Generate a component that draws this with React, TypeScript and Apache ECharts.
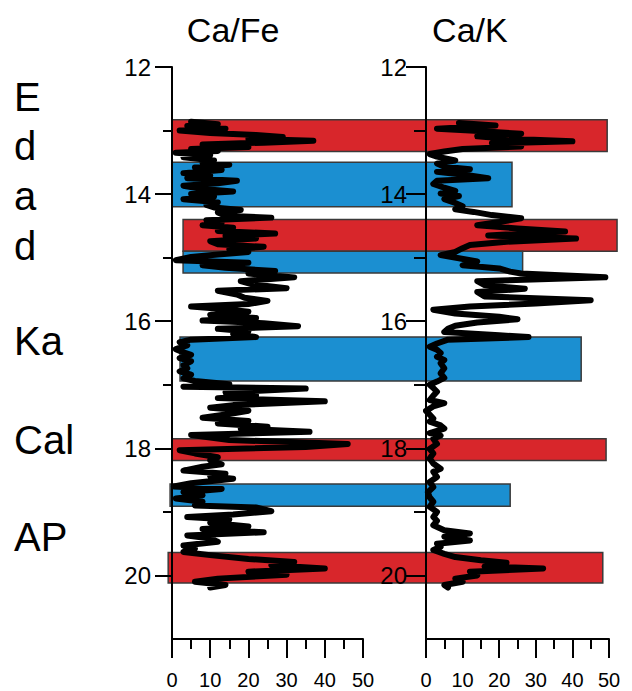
import React, { useEffect, useRef } from "react";
import * as echarts from "echarts";

// Ca/Fe profile (depth, value)
const depthFe = [12.86,12.90,12.93,12.97,13.00,13.04,13.07,13.10,13.13,13.16,13.19,13.22,13.26,13.29,13.32,13.35,13.39,13.42,13.47,13.51,13.54,13.58,13.62,13.67,13.71,13.75,13.79,13.83,13.87,13.92,13.96,14.00,14.04,14.08,14.13,14.17,14.21,14.25,14.29,14.34,14.37,14.41,14.45,14.49,14.53,14.58,14.62,14.66,14.70,14.74,14.79,14.83,14.87,14.91,14.95,14.99,15.04,15.08,15.12,15.16,15.21,15.25,15.31,15.37,15.42,15.48,15.52,15.58,15.63,15.68,15.73,15.77,15.81,15.85,15.90,15.95,15.99,16.03,16.08,16.12,16.16,16.20,16.25,16.29,16.33,16.38,16.44,16.49,16.53,16.58,16.63,16.69,16.74,16.79,16.84,16.90,16.94,16.99,17.03,17.06,17.12,17.17,17.21,17.26,17.32,17.36,17.41,17.46,17.52,17.57,17.61,17.66,17.69,17.74,17.79,17.87,17.93,17.98,18.03,18.08,18.14,18.19,18.25,18.29,18.35,18.40,18.44,18.48,18.55,18.60,18.64,18.69,18.74,18.79,18.84,18.90,18.93,18.99,19.04,19.08,19.12,19.17,19.23,19.27,19.32,19.37,19.42,19.47,19.53,19.58,19.63,19.68,19.74,19.79,19.84,19.89,19.94,19.99,20.05,20.10,20.15,20.19];
const caFe = [5,12,4,14,2,10,22,29,20,37,24,8,20,5,12,1,10,3,11,8,15,6,13,3,10,4,17,12,3,8,16,5,11,3,12,9,11,18,12,14,26,9,13,8,16,12,27,14,22,10,12,24,15,20,12,5,1,20,8,14,27,20,32,18,21,30,12,17,19,25,20,5,14,20,10,22,8,24,33,12,20,16,22,5,2,4,1,3,5,2,5,3,4,2,5,3,6,15,3,35,14,22,12,40,16,10,20,15,8,20,12,25,18,36,5,15,46,35,2,6,12,10,13,8,3,14,10,16,5,0.5,13,3,8,1,8,6,22,26,16,4,15,10,20,8,24,4,10,12,3,6,3,10,20,32,26,40,20,30,12,6,14,10];

// Ca/K profile (depth, value)
const depthK = [12.88,12.92,12.97,13.00,13.05,13.09,13.13,13.17,13.20,13.25,13.29,13.33,13.37,13.41,13.47,13.52,13.57,13.61,13.65,13.70,13.75,13.79,13.84,13.90,13.95,13.99,14.03,14.08,14.14,14.19,14.24,14.28,14.33,14.38,14.44,14.49,14.54,14.59,14.65,14.70,14.75,14.80,14.85,14.91,14.96,15.01,15.06,15.12,15.17,15.22,15.25,15.31,15.37,15.43,15.49,15.54,15.61,15.67,15.72,15.77,15.82,15.88,15.93,15.97,16.02,16.07,16.12,16.17,16.22,16.25,16.29,16.35,16.40,16.45,16.50,16.56,16.61,16.66,16.74,16.82,16.89,16.95,17.00,17.05,17.11,17.17,17.24,17.29,17.34,17.41,17.47,17.53,17.58,17.64,17.69,17.76,17.80,17.85,17.93,18.01,18.08,18.16,18.24,18.32,18.37,18.45,18.53,18.61,18.69,18.77,18.84,18.92,19.00,19.08,19.14,19.21,19.29,19.34,19.39,19.45,19.50,19.55,19.60,19.66,19.71,19.76,19.80,19.86,19.89,19.94,20.00,20.05,20.10,20.15,20.19];
const caK = [9,19,3,12,26,14,22,40,18,26,10,5,1,3,8,3,5,12,3,11,17,3,2,5,8,4,9,5,8,10,8,13,18,26,20,14,25,38,17,41,22,12,10,8,4,9,14,10,20,23,26,49,14,16,27,14,16,45,30,12,2,8,20,25,14,8,6,5,20,28,6,3,1,3,4,3,5,4,5,4,5,3,1,2,3,2,1,5,2,0,1,2,1,4,5,1,4,2,3,1,2,1,2,4,2,3,1,2,0.5,1,2,1,3,2,3,2,5,12,5,12,3,4,2,5,8,15,22,16,32,12,14,8,10,5,6];

// Highlight bands
const bandTop = [12.83, 13.5, 14.4, 14.9, 16.25, 17.85, 18.56, 19.64];
const bandBottom = [13.33, 14.2, 14.9, 15.24, 16.94, 18.19, 18.91, 20.12];
const bandStartFe = [0, 0, 2.9, 2.9, 2.1, 0, -0.5, -1.0];
const bandEndK = [49.5, 23.5, 52.2, 26.4, 42.4, 49.2, 23, 48.3];
const bandKind = ["red", "blue", "red", "blue", "blue", "red", "blue", "red"];

const majorY = [12, 14, 16, 18, 20];
const minorY = [13, 15, 17, 19];
const titles = ["Ca/Fe", "Ca/K"];
const sideLabels = ["E", "d", "a", "d", "Ka", "Cal", "AP"];
const sideLabelY = [97, 146, 196, 246, 341, 440, 537];

const FONT = "'Liberation Sans', Arial, sans-serif";
const BAND_COLORS: Record<string, string> = { red: "#d8262b", blue: "#1b8fd1" };

function xAxisCfg(gridIndex: number) {
  return {
    gridIndex,
    type: "value",
    min: 0,
    max: 50,
    interval: 10,
    position: "bottom",
    z: 1,
    axisLine: { show: true, onZero: false, lineStyle: { color: "#000", width: 2 } },
    axisTick: { show: true, length: 19, lineStyle: { color: "#000", width: 2 } },
    minorTick: { show: true, splitNumber: 2, length: 10, lineStyle: { color: "#000", width: 2 } },
    axisLabel: { fontSize: 20, lineHeight: 20, color: "#000", margin: 31, fontFamily: FONT },
    splitLine: { show: false },
    minorSplitLine: { show: false },
  };
}

function yAxisMajor(gridIndex: number, margin: number, tickLen: number) {
  return {
    gridIndex,
    type: "value",
    inverse: true,
    min: 12,
    max: 21,
    position: "left",
    z: 1,
    axisLine: { show: true, onZero: false, lineStyle: { color: "#000", width: 2 } },
    axisTick: { show: true, customValues: majorY, length: tickLen, lineStyle: { color: "#000", width: 2 } },
    axisLabel: { show: true, customValues: majorY, fontSize: 24, color: "#000", margin, fontFamily: FONT },
    splitLine: { show: false },
  };
}

function yAxisMinor(gridIndex: number, tickLen: number) {
  return {
    gridIndex,
    type: "value",
    inverse: true,
    min: 12,
    max: 21,
    position: "left",
    z: 1,
    axisLine: { show: false },
    axisTick: { show: true, customValues: minorY, length: tickLen, lineStyle: { color: "#000", width: 2 } },
    axisLabel: { show: false },
    splitLine: { show: false },
  };
}

export default function App() {
  const ref = useRef<HTMLDivElement>(null);
  useEffect(() => {
    if (!ref.current) return;
    const chart = echarts.init(ref.current, null, { renderer: "svg" });
    const lineStyle = { color: "#000", width: 6, join: "round", cap: "round" };
    const option: any = {
      animation: false,
      backgroundColor: "#fff",
      textStyle: { fontFamily: FONT },
      grid: [
        { left: 172, top: 67, width: 191, height: 572, outerBoundsMode: "none", containLabel: false },
        { left: 426, top: 67, width: 183, height: 572, outerBoundsMode: "none", containLabel: false },
      ],
      xAxis: [xAxisCfg(0), xAxisCfg(1)],
      yAxis: [yAxisMajor(0, 21, 17), yAxisMinor(0, 9), yAxisMajor(1, 19, 20), yAxisMinor(1, 12)],
      series: [
        {
          type: "line",
          xAxisIndex: 0,
          yAxisIndex: 0,
          z: 2,
          showSymbol: false,
          symbol: "none",
          lineStyle,
          data: depthFe.map((d, i) => [caFe[i], d]),
        },
        {
          type: "line",
          xAxisIndex: 1,
          yAxisIndex: 2,
          z: 2,
          showSymbol: false,
          symbol: "none",
          lineStyle,
          data: depthK.map((d, i) => [caK[i], d]),
        },
      ],
    };
    chart.setOption(option);

    const rects = bandTop.map((top, i) => {
      const x0 = chart.convertToPixel({ xAxisIndex: 0 } as any, bandStartFe[i]) as number;
      const x1 = chart.convertToPixel({ xAxisIndex: 1 } as any, bandEndK[i]) as number;
      const y0 = chart.convertToPixel({ yAxisIndex: 0 } as any, top) as number;
      const y1 = chart.convertToPixel({ yAxisIndex: 0 } as any, bandBottom[i]) as number;
      return {
        type: "rect",
        z: 0,
        silent: true,
        shape: { x: x0, y: y0, width: x1 - x0, height: y1 - y0 },
        style: { fill: BAND_COLORS[bandKind[i]], stroke: "#3a3a3a", lineWidth: 1.5 },
      };
    });
    const titleX = [
      chart.convertToPixel({ xAxisIndex: 0 } as any, 16) as number,
      chart.convertToPixel({ xAxisIndex: 1 } as any, 12) as number,
    ];
    const titleTexts = titles.map((t, i) => ({
      type: "text",
      z: 5,
      x: titleX[i],
      y: 30,
      style: { text: t, fontSize: 34, fontFamily: FONT, fill: "#000", align: "center", verticalAlign: "middle" },
    }));
    const sideTexts = sideLabels.map((t, i) => ({
      type: "text",
      z: 5,
      x: 14,
      y: sideLabelY[i],
      style: { text: t, fontSize: 40, fontFamily: FONT, fill: "#000", align: "left", verticalAlign: "middle" },
    }));
    chart.setOption({ graphic: { elements: [...rects, ...titleTexts, ...sideTexts] } });

    return () => chart.dispose();
  }, []);
  return (
    <div
      ref={ref}
      style={{ position: "fixed", left: 0, top: 0, width: 632, height: 691, background: "#fff" }}
    />
  );
}
